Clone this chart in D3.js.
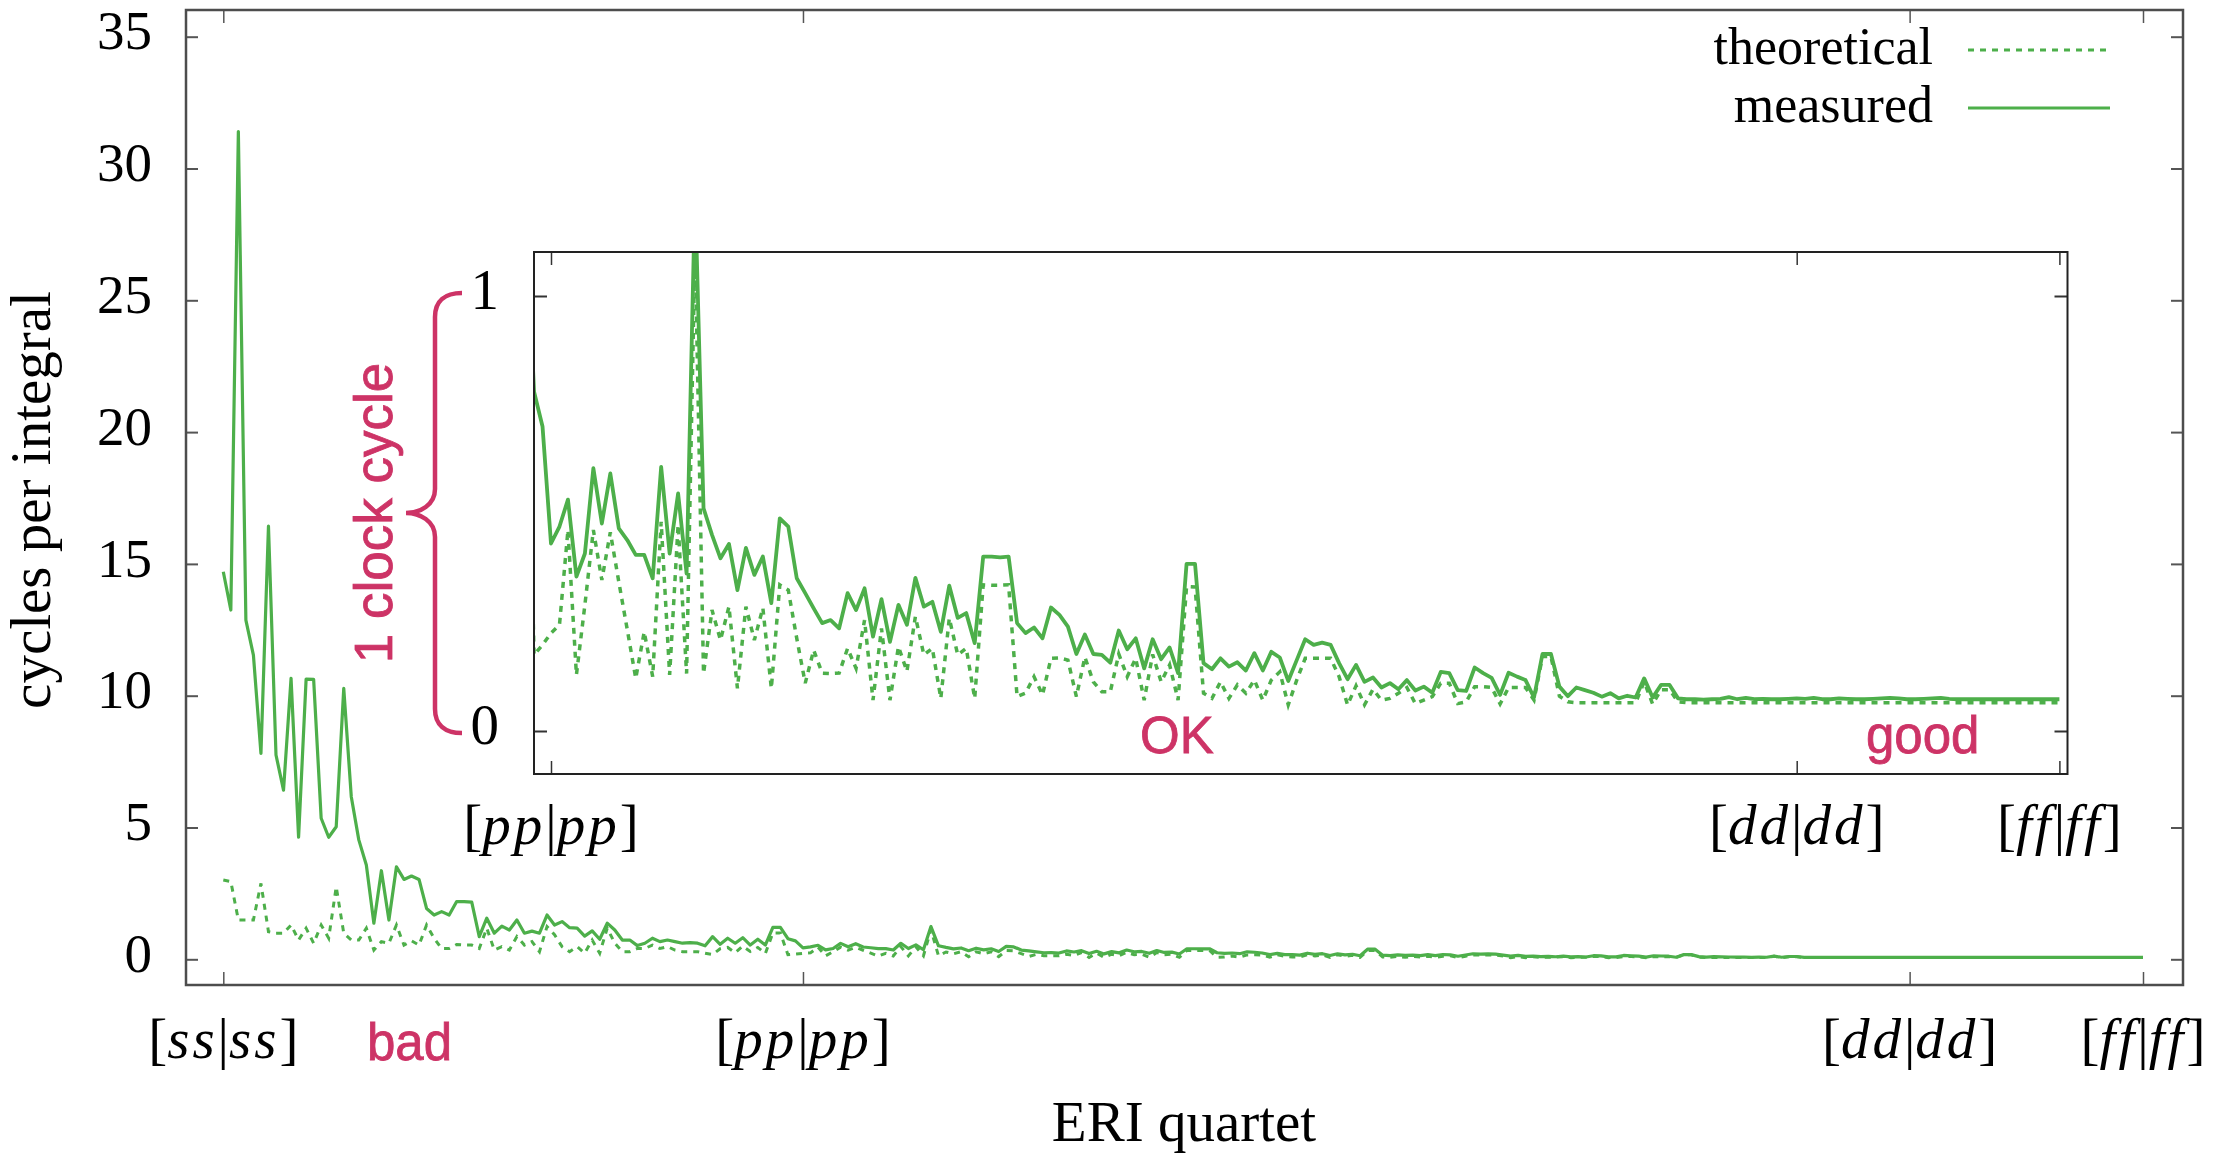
<!DOCTYPE html>
<html>
<head>
<meta charset="utf-8">
<script src="https://cdn.jsdelivr.net/npm/d3@7"></script>
<style>
  body { margin: 0; background: #fff; }
  svg { display: block; }
  text { font-variant-ligatures: none; font-kerning: none; }
</style>
</head>
<body>
<svg id="chart" width="2230" height="1153"></svg>
<script>

// measured cycles per integral, one value per ERI quartet (index 0 = [ss|ss], 255 = [ff|ff])
const measured = [
    14.70, 13.25, 31.4, 12.87, 11.54, 7.81, 16.43, 7.75, 6.42, 10.66,
    4.63, 10.63, 10.62, 5.35, 4.63, 5.03, 10.28, 6.17, 4.53, 3.58,
    1.37, 3.36, 1.49, 3.51, 3.03, 3.16, 3.03, 1.93, 1.68, 1.81,
    1.68, 2.19, 2.19, 2.17, 0.86, 1.56, 0.99, 1.26, 1.11, 1.49,
    0.99, 1.07, 0.99, 1.68, 1.30, 1.43, 1.20, 1.18, 0.88, 1.08,
    0.76, 1.37, 1.11, 0.73, 0.73, 0.52, 0.61, 0.80, 0.67, 0.73,
    0.67, 0.61, 0.63, 0.61, 0.51, 0.86, 0.57, 0.80, 0.61, 0.82,
    0.54, 0.76, 0.54, 1.21, 1.21, 0.78, 0.70, 0.431, 0.470, 0.532,
    0.355, 0.408, 0.604, 0.477, 0.592, 0.466, 0.439, 0.405, 0.405, 0.351,
    0.607, 0.408, 0.546, 0.362, 1.24, 0.512, 0.451, 0.397, 0.430, 0.324,
    0.421, 0.359, 0.401, 0.294, 0.489, 0.470, 0.351, 0.317, 0.282, 0.248,
    0.255, 0.236, 0.317, 0.278, 0.328, 0.217, 0.303, 0.205, 0.290, 0.244,
    0.352, 0.286, 0.297, 0.228, 0.334, 0.260, 0.271, 0.202, 0.401, 0.401,
    0.399, 0.401, 0.248, 0.225, 0.238, 0.213, 0.284, 0.267, 0.240, 0.177,
    0.222, 0.177, 0.175, 0.157, 0.231, 0.188, 0.213, 0.144, 0.211, 0.165,
    0.192, 0.133, 0.384, 0.384, 0.156, 0.142, 0.167, 0.148, 0.158, 0.139,
    0.179, 0.139, 0.182, 0.169, 0.115, 0.163, 0.211, 0.198, 0.203, 0.198,
    0.156, 0.119, 0.152, 0.113, 0.123, 0.100, 0.110, 0.096, 0.117, 0.093,
    0.102, 0.088, 0.136, 0.133, 0.094, 0.092, 0.146, 0.133, 0.122, 0.083,
    0.134, 0.125, 0.117, 0.077, 0.177, 0.177, 0.102, 0.080, 0.100, 0.094,
    0.088, 0.079, 0.087, 0.075, 0.081, 0.077, 0.121, 0.077, 0.106, 0.106,
    0.075, 0.073, 0.073, 0.072, 0.073, 0.074, 0.078, 0.073, 0.076, 0.073,
    0.074, 0.073, 0.073, 0.074, 0.075, 0.074, 0.076, 0.073, 0.073, 0.075,
    0.074, 0.073, 0.073, 0.074, 0.075, 0.076, 0.075, 0.073, 0.073, 0.074,
    0.075, 0.076, 0.074, 0.073, 0.073, 0.073, 0.073, 0.073, 0.073, 0.073,
    0.073, 0.073, 0.073, 0.073, 0.073, 0.073
];

// theoretical cycles per integral, same quartet order
const theoretical = [
    3.01, 2.95, 1.49, 1.49, 1.49, 2.88, 1.05, 0.99, 0.99, 1.30,
    0.73, 1.18, 0.61, 1.30, 0.80, 2.75, 0.99, 0.73, 0.73, 1.18,
    0.35, 0.67, 0.61, 1.30, 0.54, 0.70, 0.54, 1.30, 0.80, 0.41,
    0.41, 0.56, 0.54, 0.54, 0.41, 1.18, 0.35, 0.48, 0.35, 0.86,
    0.54, 0.67, 0.29, 1.24, 0.93, 0.48, 0.29, 0.48, 0.23, 0.73,
    0.23, 1.18, 0.61, 0.29, 0.29, 0.41, 0.41, 0.54, 0.41, 0.48,
    0.35, 0.29, 0.29, 0.29, 0.23, 0.18, 0.40, 0.45, 0.25, 0.50,
    0.30, 0.45, 0.22, 1.00, 1.00, 0.175, 0.198, 0.225, 0.244, 0.462,
    0.129, 0.290, 0.462, 0.347, 0.457, 0.343, 0.233, 0.121, 0.228, 0.125,
    0.481, 0.129, 0.474, 0.132, 1.12, 0.132, 0.278, 0.209, 0.286, 0.098,
    0.286, 0.209, 0.283, 0.098, 0.336, 0.324, 0.213, 0.110, 0.186, 0.133,
    0.132, 0.133, 0.190, 0.144, 0.255, 0.071, 0.236, 0.071, 0.194, 0.137,
    0.263, 0.175, 0.190, 0.075, 0.259, 0.175, 0.190, 0.075, 0.336, 0.335,
    0.335, 0.336, 0.079, 0.087, 0.125, 0.083, 0.167, 0.168, 0.163, 0.079,
    0.170, 0.113, 0.090, 0.090, 0.177, 0.125, 0.167, 0.071, 0.176, 0.113,
    0.152, 0.071, 0.332, 0.331, 0.087, 0.075, 0.113, 0.075, 0.106, 0.087,
    0.117, 0.071, 0.117, 0.136, 0.060, 0.117, 0.167, 0.167, 0.167, 0.167,
    0.125, 0.060, 0.104, 0.060, 0.096, 0.071, 0.075, 0.087, 0.100, 0.063,
    0.071, 0.079, 0.110, 0.110, 0.063, 0.067, 0.102, 0.102, 0.100, 0.062,
    0.100, 0.100, 0.100, 0.071, 0.171, 0.171, 0.080, 0.067, 0.065, 0.065,
    0.065, 0.065, 0.065, 0.065, 0.065, 0.065, 0.113, 0.062, 0.095, 0.095,
    0.067, 0.065, 0.065, 0.065, 0.065, 0.065, 0.065, 0.065, 0.065, 0.065,
    0.065, 0.065, 0.065, 0.065, 0.065, 0.065, 0.065, 0.065, 0.065, 0.065,
    0.065, 0.065, 0.065, 0.065, 0.065, 0.065, 0.065, 0.065, 0.065, 0.065,
    0.065, 0.065, 0.065, 0.065, 0.065, 0.065, 0.065, 0.065, 0.065, 0.065,
    0.065, 0.065, 0.065, 0.065, 0.065, 0.065
];

// axis ticks
const mainYTicks = [0, 5, 10, 15, 20, 25, 30, 35];
const insetYTicks = [0, 1];
const quartetTicks = [0, 77, 224, 255];          // [ss|ss] [pp|pp] [dd|dd] [ff|ff]
const quartetLabels = [["ss", "ss"], ["pp", "pp"], ["dd", "dd"], ["ff", "ff"]];
const insetQuartetTicks = [77, 224, 255];
const insetQuartetLabels = [["pp", "pp"], ["dd", "dd"], ["ff", "ff"]];
const seriesNames = ["theoretical", "measured"];

const green = "#4daf4a";
const crimson = "#cd3366";
const serif = "'Liberation Serif', 'Times New Roman', serif";
const sans = "'Liberation Sans', Arial, sans-serif";

const svg = d3.select("#chart");
svg.append("rect").attr("width", 2230).attr("height", 1153).attr("fill", "#fff");

// ---------- main plot ----------
const frame = { left: 186, right: 2183, top: 10, bottom: 985 };

const x = d3.scaleLinear().domain([0, 255]).range([223.3, 2143]);
const y = d3.scaleLinear().domain([0, 35]).range([959.3, 36.7]);

const idx = d3.range(measured.length);

const mainLine = (vals) => d3.line()
    .x(function (d) { return x(d); })
    .y(function (d) { return y(vals[d]); })(idx);

// y axis, ticks pointing in, on both sides
svg.append("g")
    .attr("transform", "translate(" + frame.left + ",0)")
    .call(d3.axisLeft(y).tickValues(mainYTicks).tickSize(-12).tickPadding(34))
    .call(g => g.select(".domain").remove())
    .call(g => g.selectAll("line").attr("stroke", "#555").attr("stroke-width", 2))
    .call(g => g.selectAll("text")
        .attr("font-family", serif)
        .attr("font-size", 55)
        .attr("fill", "#000")
        .attr("dy", "0.22em"));

svg.append("g")
    .attr("transform", "translate(" + frame.right + ",0)")
    .call(d3.axisRight(y).tickValues(mainYTicks).tickSize(-12).tickFormat(""))
    .call(g => g.select(".domain").remove())
    .call(g => g.selectAll("line").attr("stroke", "#555").attr("stroke-width", 2));

// x axis ticks bottom and top
svg.append("g")
    .attr("transform", "translate(0," + frame.bottom + ")")
    .call(d3.axisBottom(x).tickValues(quartetTicks).tickSize(-13).tickFormat(""))
    .call(g => g.select(".domain").remove())
    .call(g => g.selectAll("line").attr("stroke", "#555").attr("stroke-width", 1.5));

svg.append("g")
    .attr("transform", "translate(0," + frame.top + ")")
    .call(d3.axisTop(x).tickValues(quartetTicks).tickSize(-13).tickFormat(""))
    .call(g => g.select(".domain").remove())
    .call(g => g.selectAll("line").attr("stroke", "#555").attr("stroke-width", 1.5));

// quartet labels like [ss|ss] with italic shells
function quartetLabel(parent, cx, baseline, pair) {
    const t = parent.append("text")
        .attr("x", cx)
        .attr("y", baseline)
        .attr("text-anchor", "middle")
        .attr("font-family", serif)
        .attr("font-size", 57)
        .attr("fill", "#000");
    t.append("tspan").text("[");
    t.append("tspan").attr("font-style", "italic").attr("letter-spacing", 3).text(pair[0]);
    t.append("tspan").text("|");
    t.append("tspan").attr("font-style", "italic").attr("letter-spacing", 3).text(pair[1]);
    t.append("tspan").text("]");
    return t;
}

quartetTicks.forEach(function (d, i) {
    quartetLabel(svg, x(d), 1058, quartetLabels[i]);
});

// main data lines
svg.append("path")
    .attr("d", mainLine(theoretical))
    .attr("fill", "none")
    .attr("stroke", green)
    .attr("stroke-width", 3)
    .attr("stroke-dasharray", "6,6");

svg.append("path")
    .attr("d", mainLine(measured))
    .attr("fill", "none")
    .attr("stroke", green)
    .attr("stroke-width", 3.2)
    .attr("stroke-linejoin", "round");

// main frame
svg.append("rect")
    .attr("x", frame.left)
    .attr("y", frame.top)
    .attr("width", frame.right - frame.left)
    .attr("height", frame.bottom - frame.top)
    .attr("fill", "none")
    .attr("stroke", "#4d4d4d")
    .attr("stroke-width", 2.5);

// axis titles
svg.append("text")
    .attr("transform", "translate(50,500) rotate(-90)")
    .attr("text-anchor", "middle")
    .attr("font-family", serif)
    .attr("font-size", 57)
    .text("cycles per integral");

svg.append("text")
    .attr("x", 1184)
    .attr("y", 1141)
    .attr("text-anchor", "middle")
    .attr("font-family", serif)
    .attr("font-size", 57)
    .text("ERI quartet");

// legend
const legend = svg.append("g");
seriesNames.forEach(function (name, i) {
    const base = 64 + i * 58;
    legend.append("text")
        .attr("x", 1933)
        .attr("y", base)
        .attr("text-anchor", "end")
        .attr("font-family", serif)
        .attr("font-size", 52)
        .text(name);
    legend.append("line")
        .attr("x1", 1968).attr("x2", 2110)
        .attr("y1", base - 14).attr("y2", base - 14)
        .attr("stroke", green)
        .attr("stroke-width", 3)
        .attr("stroke-dasharray", name === "theoretical" ? "6,6" : null);
});

// "bad" note
svg.append("text")
    .attr("x", 367).attr("y", 1060)
    .attr("font-family", sans)
    .attr("font-size", 51)
    .attr("fill", crimson)
    .attr("stroke", crimson)
    .attr("stroke-width", 0.8)
    .text("bad");

// ---------- inset ----------
const inset = { left: 534, right: 2067.5, top: 252, bottom: 774 };
const xi = d3.scaleLinear().domain([77, 255]).range([551, 2059.4]);
const yi = d3.scaleLinear().domain([0, 1]).range([731, 296]);

svg.append("rect")
    .attr("x", inset.left).attr("y", inset.top)
    .attr("width", inset.right - inset.left)
    .attr("height", inset.bottom - inset.top)
    .attr("fill", "#fff");

svg.append("clipPath")
    .attr("id", "insetClip")
    .append("rect")
    .attr("x", inset.left).attr("y", inset.top)
    .attr("width", inset.right - inset.left)
    .attr("height", inset.bottom - inset.top);

const insetLine = (vals) => d3.line()
    .x(function (d) { return xi(d); })
    .y(function (d) { return yi(vals[d]); })(idx.filter(d => d >= 73));

const insetG = svg.append("g").attr("clip-path", "url(#insetClip)");

insetG.append("path")
    .attr("d", insetLine(theoretical))
    .attr("fill", "none")
    .attr("stroke", green)
    .attr("stroke-width", 3.5)
    .attr("stroke-dasharray", "6,6");

insetG.append("path")
    .attr("d", insetLine(measured))
    .attr("fill", "none")
    .attr("stroke", green)
    .attr("stroke-width", 3.8)
    .attr("stroke-linejoin", "round");

// inset ticks
svg.append("g")
    .attr("transform", "translate(" + inset.left + ",0)")
    .call(d3.axisLeft(yi).tickValues(insetYTicks).tickSize(-13).tickFormat(""))
    .call(g => g.select(".domain").remove())
    .call(g => g.selectAll("line").attr("stroke", "#333").attr("stroke-width", 2));
svg.append("g")
    .attr("transform", "translate(" + inset.right + ",0)")
    .call(d3.axisRight(yi).tickValues(insetYTicks).tickSize(-13).tickFormat(""))
    .call(g => g.select(".domain").remove())
    .call(g => g.selectAll("line").attr("stroke", "#333").attr("stroke-width", 2));
svg.append("g")
    .attr("transform", "translate(0," + inset.bottom + ")")
    .call(d3.axisBottom(xi).tickValues(insetQuartetTicks).tickSize(-13).tickFormat(""))
    .call(g => g.select(".domain").remove())
    .call(g => g.selectAll("line").attr("stroke", "#333").attr("stroke-width", 1.5));
svg.append("g")
    .attr("transform", "translate(0," + inset.top + ")")
    .call(d3.axisTop(xi).tickValues(insetQuartetTicks).tickSize(-13).tickFormat(""))
    .call(g => g.select(".domain").remove())
    .call(g => g.selectAll("line").attr("stroke", "#333").attr("stroke-width", 1.5));

// inset frame
svg.append("rect")
    .attr("x", inset.left).attr("y", inset.top)
    .attr("width", inset.right - inset.left)
    .attr("height", inset.bottom - inset.top)
    .attr("fill", "none")
    .attr("stroke", "#222")
    .attr("stroke-width", 2);

// inset labels
insetQuartetTicks.forEach(function (d, i) {
    quartetLabel(svg, xi(d), 844, insetQuartetLabels[i]);
});

insetYTicks.forEach(function (d) {
    svg.append("text")
        .attr("x", 499)
        .attr("y", yi(d) + 13)
        .attr("text-anchor", "end")
        .attr("font-family", serif)
        .attr("font-size", 57)
        .text(d);
});

// brace spanning 0..1 of the inset
const braceTop = yi(1) - 3, braceBot = yi(0) + 2, braceMid = (braceTop + braceBot) / 2;
svg.append("path")
    .attr("d",
        "M462," + braceTop +
        " C445," + braceTop + " 435," + (braceTop + 8) + " 435," + (braceTop + 24) +
        " L435," + (braceMid - 24) +
        " C435," + (braceMid - 8) + " 420," + braceMid + " 406," + braceMid +
        " C420," + braceMid + " 435," + (braceMid + 8) + " 435," + (braceMid + 24) +
        " L435," + (braceBot - 24) +
        " C435," + (braceBot - 8) + " 445," + braceBot + " 462," + braceBot)
    .attr("fill", "none")
    .attr("stroke", crimson)
    .attr("stroke-width", 4.5);

svg.append("text")
    .attr("transform", "translate(392," + braceMid + ") rotate(-90)")
    .attr("text-anchor", "middle")
    .attr("font-family", sans)
    .attr("font-size", 53)
    .attr("fill", crimson)
    .attr("stroke", crimson)
    .attr("stroke-width", 0.8)
    .text("1 clock cycle");

svg.append("text")
    .attr("x", 1140).attr("y", 753)
    .attr("font-family", sans)
    .attr("font-size", 51)
    .attr("fill", crimson)
    .attr("stroke", crimson)
    .attr("stroke-width", 0.8)
    .text("OK");

svg.append("text")
    .attr("x", 1866).attr("y", 753)
    .attr("font-family", sans)
    .attr("font-size", 51)
    .attr("fill", crimson)
    .attr("stroke", crimson)
    .attr("stroke-width", 0.8)
    .text("good");

</script>
</body>
</html>
